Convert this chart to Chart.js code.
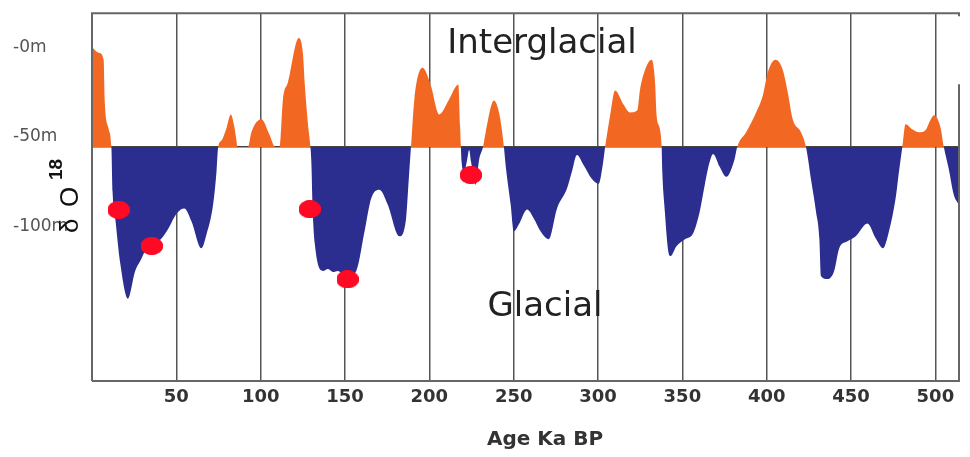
<!DOCTYPE html>
<html>
<head>
<meta charset="utf-8">
<script src="https://cdn.jsdelivr.net/npm/chart.js@4.4.1/dist/chart.umd.min.js"></script>
<style>
body { margin: 0; background: #fff; }
#wrap { width: 970px; height: 457px; }
</style>
</head>
<body>
<div id="wrap"><canvas id="myChart" width="970" height="457"></canvas></div>
<script>
// age (ka BP) and sea level (m)
const ages = [0, 4, 6.9, 7.5, 9.9, 11.5, 12.2, 13.8, 16.8, 21.3,
    25.6, 28.6, 32.5, 37.4, 41.3, 45.3, 50.2, 54.7, 59.0, 64.9,
    67.9, 71.8, 73.8, 74.8, 77.0, 79.5, 82.3, 84.3, 85.6, 86.2, 92.5, 94.5,
    100.4, 105.3, 108.6, 111.2, 113.2, 116.1, 122.6, 125.0, 126.2, 128.1,
    129.5, 130.1, 130.7, 132.1, 137.0, 139.9, 142.9, 145.8, 150.4, 156.7,
    161.6, 165.5, 170.4, 175.3, 182.2, 186.2, 187.7, 189.1, 191.1, 196.0,
    200.9, 205.8, 211.7, 217.2, 218.2, 218.7, 219.1, 220.6, 222.4, 223.6,
    224.7, 227.4, 229.5, 231.8, 233.4, 238.3, 241.3, 243.2, 244.2, 245.2,
    248.2, 250.1, 253.1, 258.0, 261.9, 265.9, 270.8, 275.7, 281.6, 284.5,
    287.5, 291.4, 296.3, 300.3, 302.8, 304.2, 307.2, 310.1, 315.1, 319.0,
    323.3, 324.9, 327.9, 331.8, 333.8, 334.7, 336.7, 337.7, 338.1, 339.6,
    341.6, 343.0, 346.5, 351.5, 356.4, 360.3, 363.3, 366.2, 368.2, 372.1,
    376.0, 381.0, 382.5, 387.8, 393.7, 397.7, 400.6, 405.2, 409.5, 412.5,
    415.4, 420.3, 423.3, 426.2, 429.2, 431.2, 432.1, 436.1, 440.0, 443.0,
    447.9, 452.8, 459.7, 464.6, 469.0, 472.5, 476.4, 478.4, 480.4, 482.3,
    486.3, 490.3, 494.1, 497.0, 499.1, 503.0, 505.0, 507.9, 510.9, 513.8]

const levels = [6.1, 2.8, -1.1, -23.3, -40, -50, -75, -90, -115.6, -135,
    -119.4, -113.9, -106.7, -104.4, -101.1, -95.6, -87.2, -84.4, -91.7, -106.7,
    -98.9, -82.2, -63.9, -50, -46, -40, -31.7, -38, -46, -50, -50, -41.7,
    -34.4, -43.3, -50, -50, -23.3, -13.9, 11.1, 2.8, -15.6, -37.8,
    -50, -60, -82.2, -104.4, -119.4, -118.3, -120, -119.4, -122.8, -119.4,
    -97.2, -78.9, -73.9, -82.2, -100, -90, -69.4, -50, -23.3, -5.6,
    -15.6, -31.7, -23.3, -15, -37.8, -50, -58.3, -63.9, -57.2, -51.7,
    -58.3, -71.1, -57.2, -50, -41.7, -23.9, -30.6, -41.7, -50, -60,
    -82.2, -97.2, -93.3, -85, -90, -97.2, -101.7, -84.4, -73.3, -63.9,
    -54.4, -60, -67.8, -70.6, -60, -50, -32.2, -18.3, -26.1, -30.6,
    -29.4, -17.8, -6.7, -1.1, -13.9, -32.2, -40, -50, -63.9, -86.1,
    -108.3, -111.1, -105.6, -101.7, -98.3, -86.1, -71.1, -58.3, -53.9, -61.1,
    -66.7, -56.7, -50, -41.7, -30.6, -21.1, -8.3, -1.1, -6.7, -19.4,
    -34.4, -41.7, -50, -67.8, -86.1, -101.1, -122.2, -123.9, -119.4, -106.7,
    -102.8, -100, -92.8, -101.1, -106.7, -97.2, -78.9, -63.9, -50, -37.2,
    -40, -41.7, -40.6, -35, -32.2, -38.9, -50, -62.2, -76.7, -82.2]

// red markers
const dotAges = [15.8, 35.4, 129.1, 151.5, 224.6]
const dotLevels = [-85.2, -105.4, -84.8, -124.1, -65.7]

const baseline = -50
const xTicks = [50, 100, 150, 200, 250, 300, 350, 400, 450, 500]
const yTicks = [0, -50, -100]

const orange = '#F26822'
const navy = '#2B2E8F'

// ellipse used as the marker shape
const dot = document.createElement('canvas')
dot.width = 22
dot.height = 18
const dctx = dot.getContext('2d')
dctx.fillStyle = '#FF0A24'
dctx.beginPath()
dctx.ellipse(11, 9, 11, 9, 0, 0, Math.PI * 2)
dctx.fill()

const extras = {
    id: 'extras',
    afterDraw(chart) {
        const ctx = chart.ctx
        const a = chart.chartArea
        // markers again, above the grid lines
        chart.getDatasetMeta(0).controller.draw()

        ctx.save()
        ctx.strokeStyle = '#666'
        ctx.lineWidth = 2
        ctx.beginPath()
        ctx.moveTo(a.left, a.bottom)
        ctx.lineTo(a.left, a.top)
        ctx.lineTo(a.right, a.top)
        ctx.lineTo(a.right, a.top + 3)
        ctx.moveTo(a.right, a.top + 71)
        ctx.lineTo(a.right, a.bottom)
        ctx.lineTo(a.left, a.bottom)
        ctx.stroke()

        ctx.fillStyle = '#222'
        ctx.textAlign = 'center'
        ctx.textBaseline = 'alphabetic'
        ctx.font = '34px "DejaVu Sans"'
        ctx.fillText('Interglacial', 542, 53)
        ctx.fillText('Glacial', 545, 316)

        ctx.fillStyle = '#333'
        ctx.textBaseline = 'middle'
        ctx.font = 'bold 20px "DejaVu Sans"'
        ctx.fillText('Age Ka BP', 545, 440)

        // rotated δ O18 label
        ctx.translate(78, 233)
        ctx.rotate(-Math.PI / 2)
        ctx.textAlign = 'left'
        ctx.textBaseline = 'alphabetic'
        ctx.fillStyle = '#111'
        ctx.font = '26px "Liberation Sans"'
        ctx.fillText('δ', 0, 0)
        ctx.fillText('O', 26, 0)
        ctx.font = 'bold 19px "Liberation Sans"'
        ctx.fillText('18', 53, -16)
        ctx.restore()
    }
}

const ctx = document.getElementById('myChart').getContext('2d')
const myChart = new Chart(ctx, {
    type: 'line',
    data: {
        datasets: [{
            label: 'markers',
            data: dotAges.map((x, i) => ({ x: x, y: dotLevels[i] })),
            showLine: false,
            pointStyle: dot,
            pointRadius: 10,
            order: 0
        }, {
            label: 'sea level',
            data: ages.map((x, i) => ({ x: x, y: levels[i] })),
            borderColor: 'transparent',
            borderWidth: 0,
            pointRadius: 0,
            cubicInterpolationMode: 'monotone',
            fill: { target: { value: baseline }, above: orange, below: navy },
            order: 1
        }]
    },
    options: {
        responsive: false,
        animation: false,
        devicePixelRatio: 1,
        layout: { padding: { left: 13, top: 10, right: 8, bottom: 0 } },
        plugins: { legend: { display: false }, tooltip: { enabled: false } },
        scales: {
            x: {
                type: 'linear',
                min: 0,
                max: 514,
                z: 1,
                afterBuildTicks: scale => { scale.ticks = xTicks.map(v => ({ value: v })) },
                afterFit: scale => { scale.height = 76 },
                border: { display: false },
                grid: { color: '#555', lineWidth: 1.5, drawTicks: false },
                ticks: {
                    autoSkip: false,
                    maxRotation: 0,
                    padding: 6,
                    color: '#333',
                    font: { family: 'DejaVu Sans', size: 18, weight: 'bold' }
                }
            },
            y: {
                min: -181.1,
                max: 25,
                z: 1,
                afterBuildTicks: scale => { scale.ticks = yTicks.map(v => ({ value: v })) },
                afterFit: scale => { scale.width = 79 },
                border: { display: false },
                grid: {
                    drawTicks: false,
                    lineWidth: 1.5,
                    color: c => (c.tick && c.tick.value === baseline) ? '#444' : 'transparent'
                },
                ticks: {
                    crossAlign: 'far',
                    labelOffset: -10,
                    color: '#555',
                    font: { family: 'DejaVu Sans', size: 17 },
                    callback: v => '-' + Math.abs(v) + 'm'
                }
            }
        }
    },
    plugins: [extras]
})
</script>
</body>
</html>
